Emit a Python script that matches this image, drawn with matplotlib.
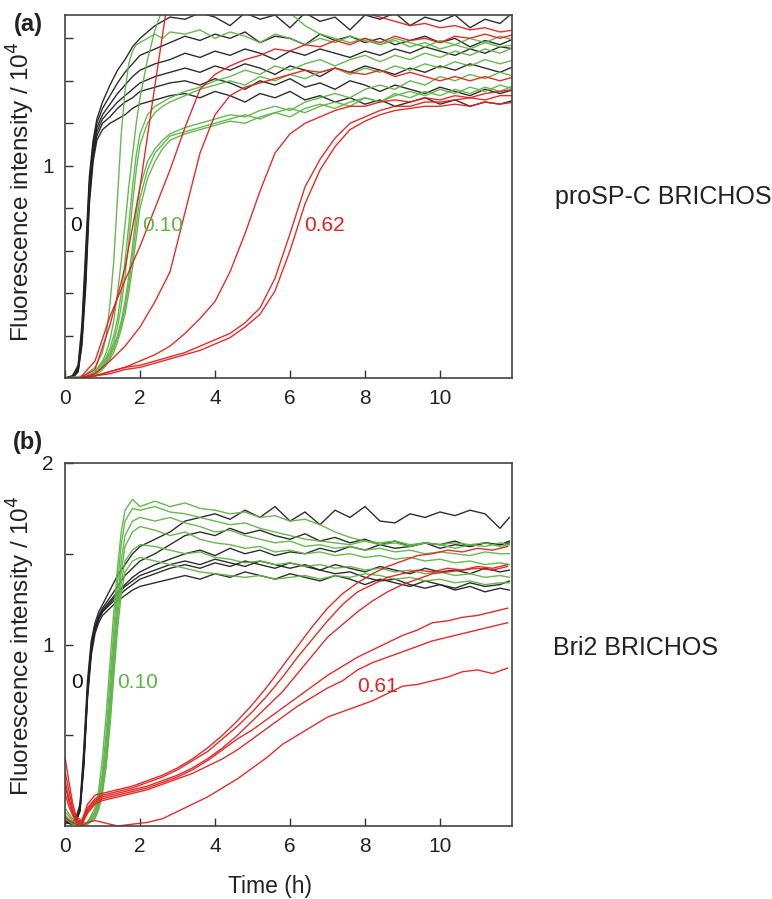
import matplotlib
matplotlib.use("Agg")
import matplotlib.pyplot as plt
from matplotlib.ticker import FixedLocator, NullFormatter

plt.rcParams['font.family'] = ['Liberation Sans', 'DejaVu Sans']

# ---------------- Panel (a): proSP-C BRICHOS ----------------
TA_K = [0, 0.2, 0.35, 0.45, 0.55, 0.65, 0.75, 0.85, 1.0, 1.2, 1.4, 1.6, 1.8,
        2.0, 2.4, 2.8, 3.2, 3.6, 4.0, 4.4, 4.8, 5.2, 5.6, 6.0, 6.4, 6.8, 7.2, 7.6,
        8.0, 8.4, 8.8, 9.2, 9.6, 10.0, 10.4, 10.8, 11.2, 11.6, 12.0]
A_K1 = [0, 0.01, 0.06, 0.25, 0.6, 0.95, 1.12, 1.22, 1.3, 1.38, 1.45, 1.5, 1.56,
        1.6, 1.66, 1.7, 1.69, 1.72, 1.7, 1.66, 1.72, 1.69, 1.71, 1.65, 1.72, 1.68, 1.7,
        1.64, 1.71, 1.69, 1.72, 1.66, 1.7, 1.68, 1.71, 1.65, 1.69, 1.67, 1.73]
A_K2 = [0, 0.01, 0.05, 0.22, 0.55, 0.92, 1.1, 1.2, 1.27, 1.33, 1.39, 1.44, 1.48,
        1.52, 1.55, 1.58, 1.61, 1.59, 1.62, 1.6, 1.63, 1.58, 1.61, 1.6, 1.57, 1.62, 1.59,
        1.61, 1.58, 1.6, 1.57, 1.59, 1.61, 1.58, 1.6, 1.56, 1.59, 1.57, 1.6]
A_K3 = [0, 0.0, 0.04, 0.2, 0.5, 0.9, 1.08, 1.18, 1.24, 1.29, 1.34, 1.38, 1.42,
        1.45, 1.48, 1.5, 1.53, 1.51, 1.54, 1.52, 1.55, 1.53, 1.5, 1.54, 1.52, 1.55, 1.53,
        1.51, 1.54, 1.52, 1.55, 1.53, 1.56, 1.54, 1.52, 1.55, 1.53, 1.56, 1.55]
A_K4 = [0, 0.0, 0.04, 0.18, 0.48, 0.88, 1.06, 1.16, 1.22, 1.26, 1.3, 1.33, 1.36,
        1.39, 1.42, 1.44, 1.46, 1.44, 1.47, 1.45, 1.48, 1.46, 1.43, 1.47, 1.45, 1.42, 1.46,
        1.44, 1.47, 1.45, 1.43, 1.46, 1.44, 1.47, 1.45, 1.48, 1.46, 1.44, 1.47]
A_K5 = [0, 0.0, 0.03, 0.17, 0.45, 0.85, 1.04, 1.14, 1.2, 1.23, 1.27, 1.3, 1.32,
        1.35, 1.37, 1.39, 1.4, 1.38, 1.41, 1.39, 1.36, 1.4, 1.38, 1.41, 1.37, 1.39, 1.36,
        1.4, 1.38, 1.35, 1.38, 1.36, 1.34, 1.37, 1.35, 1.33, 1.36, 1.34, 1.36]
A_K6 = [0, 0.0, 0.03, 0.15, 0.42, 0.82, 1.02, 1.12, 1.17, 1.2, 1.22, 1.24, 1.27,
        1.29, 1.31, 1.33, 1.34, 1.32, 1.35, 1.33, 1.3, 1.34, 1.32, 1.35, 1.31, 1.33, 1.3,
        1.32, 1.29, 1.31, 1.28, 1.3, 1.32, 1.29, 1.31, 1.28, 1.3, 1.29, 1.31]

TA_G = [0, 0.5, 0.8, 1.0, 1.1, 1.2, 1.3, 1.4, 1.5, 1.6, 1.7, 1.8, 1.9, 2.0, 2.2, 2.4, 2.6, 2.8,
        3.2, 3.6, 4.0, 4.4, 4.8, 5.2, 5.6, 6.0, 6.4, 6.8, 7.2, 7.6, 8.0, 8.4, 8.8, 9.2, 9.6,
        10.0, 10.4, 10.8, 11.2, 11.6, 12.0]
A_G1 = [0, 0.01, 0.05, 0.12, 0.2, 0.35, 0.55, 0.85, 1.15, 1.35, 1.48, 1.54, 1.57, 1.58, 1.6, 1.62, 1.6, 1.63,
        1.62, 1.64, 1.6, 1.63, 1.61, 1.58, 1.62, 1.6, 1.57, 1.6, 1.58, 1.61, 1.59, 1.57, 1.6, 1.58, 1.56,
        1.59, 1.57, 1.6, 1.58, 1.61, 1.59]
A_G2 = [0, 0.0, 0.03, 0.08, 0.12, 0.18, 0.27, 0.4, 0.55, 0.72, 0.9, 1.05, 1.2, 1.32, 1.5, 1.64, 1.74, 1.8,
        1.82, 1.8, 1.78, 1.8, 1.76, 1.74, 1.75, 1.72, 1.66, 1.62, 1.6, 1.58, 1.6, 1.57, 1.59, 1.56, 1.58,
        1.55, 1.57, 1.55, 1.58, 1.56, 1.57]
A_G3 = [0, 0.0, 0.03, 0.07, 0.1, 0.14, 0.2, 0.28, 0.4, 0.55, 0.72, 0.9, 1.05, 1.15, 1.24, 1.28, 1.3, 1.32,
        1.35, 1.37, 1.4, 1.42, 1.45, 1.43, 1.47, 1.45, 1.48, 1.5, 1.47, 1.5, 1.52, 1.49, 1.52, 1.5, 1.53,
        1.51, 1.54, 1.52, 1.55, 1.53, 1.56]
A_G4 = [0, 0.0, 0.02, 0.06, 0.09, 0.12, 0.17, 0.24, 0.34, 0.48, 0.64, 0.82, 0.98, 1.1, 1.2, 1.25, 1.28, 1.3,
        1.33, 1.36, 1.38, 1.4, 1.38, 1.42, 1.4, 1.43, 1.41, 1.44, 1.46, 1.43, 1.46, 1.44, 1.47, 1.45, 1.48,
        1.46, 1.49, 1.47, 1.5, 1.48, 1.5]
A_G5 = [0, 0.0, 0.02, 0.05, 0.08, 0.11, 0.15, 0.2, 0.27, 0.36, 0.48, 0.62, 0.78, 0.9, 1.02, 1.08, 1.12, 1.15,
        1.18, 1.2, 1.22, 1.24, 1.23, 1.26, 1.28, 1.26, 1.3, 1.32, 1.34, 1.32, 1.36, 1.38, 1.36, 1.4, 1.38,
        1.42, 1.4, 1.43, 1.41, 1.44, 1.42]
A_G6 = [0, 0.0, 0.02, 0.05, 0.07, 0.1, 0.14, 0.19, 0.25, 0.33, 0.44, 0.57, 0.72, 0.85, 0.98, 1.06, 1.1, 1.14,
        1.16, 1.18, 1.2, 1.22, 1.24, 1.22, 1.25, 1.27, 1.25, 1.28, 1.3, 1.28, 1.32, 1.3, 1.34, 1.32, 1.35,
        1.33, 1.36, 1.34, 1.37, 1.35, 1.38]
A_G7 = [0, 0.0, 0.01, 0.04, 0.06, 0.09, 0.12, 0.17, 0.23, 0.3, 0.4, 0.52, 0.66, 0.8, 0.94, 1.02, 1.08, 1.12,
        1.15, 1.17, 1.19, 1.21, 1.2, 1.23, 1.25, 1.23, 1.27, 1.29, 1.27, 1.3, 1.32, 1.3, 1.33, 1.35, 1.33,
        1.36, 1.34, 1.37, 1.35, 1.38, 1.36]

TA_R = [0, 0.4, 0.8, 1.2, 1.6, 2.0, 2.4, 2.8, 3.2, 3.6, 4.0, 4.4, 4.8, 5.2, 5.6, 6.0, 6.4, 6.8,
        7.2, 7.6, 8.0, 8.4, 8.8, 9.2, 9.6, 10.0, 10.4, 10.8, 11.2, 11.6, 12.0]
A_R1 = [0, 0.0, 0.04, 0.25, 0.52, 0.9, 1.38, 1.85, 1.9, 1.92, 1.9, 1.93, 1.9, 1.88, 1.86, 1.84, 1.8, 1.78,
        1.76, 1.74, 1.72, 1.7, 1.68, 1.66, 1.67, 1.65, 1.66, 1.64, 1.65, 1.63, 1.64]
A_R2 = [0, 0.0, 0.08, 0.29, 0.46, 0.62, 0.8, 0.98, 1.18, 1.36, 1.43, 1.47, 1.5, 1.52, 1.55, 1.54, 1.57, 1.56,
        1.59, 1.57, 1.6, 1.58, 1.61, 1.59, 1.6, 1.58, 1.61, 1.6, 1.62, 1.6, 1.62]
A_R3 = [0, 0.0, 0.02, 0.08, 0.15, 0.24, 0.36, 0.5, 0.78, 1.06, 1.24, 1.33, 1.37, 1.39, 1.41, 1.43, 1.45, 1.44,
        1.46, 1.44, 1.43, 1.45, 1.42, 1.44, 1.42, 1.4, 1.42, 1.4, 1.42, 1.4, 1.42]
A_R4 = [0, 0.0, 0.01, 0.03, 0.05, 0.08, 0.11, 0.15, 0.21, 0.28, 0.36, 0.5, 0.68, 0.88, 1.06, 1.15, 1.2, 1.23,
        1.26, 1.28, 1.28, 1.3, 1.31, 1.3, 1.32, 1.31, 1.33, 1.32, 1.34, 1.35, 1.36]
A_R5 = [0, 0.0, 0.01, 0.03, 0.05, 0.06, 0.08, 0.1, 0.12, 0.15, 0.18, 0.21, 0.26, 0.33, 0.47, 0.68, 0.9, 1.03,
        1.13, 1.2, 1.23, 1.26, 1.28, 1.28, 1.3, 1.3, 1.31, 1.32, 1.31, 1.33, 1.33]
A_R6 = [0, 0.0, 0.01, 0.02, 0.04, 0.05, 0.07, 0.09, 0.11, 0.13, 0.16, 0.19, 0.24, 0.3, 0.41, 0.6, 0.82, 0.98,
        1.09, 1.17, 1.21, 1.24, 1.26, 1.27, 1.28, 1.28, 1.29, 1.28, 1.3, 1.29, 1.3]

# ---------------- Panel (b): Bri2 BRICHOS ----------------
TB_K = [0, 0.2, 0.3, 0.4, 0.5, 0.6, 0.7, 0.8, 0.9, 1.0, 1.2, 1.4, 1.6, 1.8, 2.0,
        2.4, 2.8, 3.2, 3.6, 4.0, 4.4, 4.8, 5.2, 5.6, 6.0, 6.4, 6.8, 7.2, 7.6, 8.0,
        8.4, 8.8, 9.2, 9.6, 10.0, 10.4, 10.8, 11.2, 11.6, 11.85]
B_K1 = [0.03, 0.02, 0.05, 0.12, 0.42, 0.8, 1.02, 1.12, 1.18, 1.22, 1.3, 1.38, 1.44, 1.5, 1.54,
        1.58, 1.62, 1.68, 1.7, 1.72, 1.69, 1.74, 1.7, 1.76, 1.68, 1.73, 1.66, 1.74, 1.7, 1.76,
        1.68, 1.67, 1.72, 1.7, 1.73, 1.71, 1.74, 1.72, 1.64, 1.7]
B_K2 = [0.03, 0.02, 0.04, 0.1, 0.38, 0.76, 1.0, 1.1, 1.16, 1.2, 1.26, 1.32, 1.38, 1.42, 1.46,
        1.5, 1.55, 1.6, 1.62, 1.6, 1.64, 1.61, 1.63, 1.6, 1.58, 1.61, 1.57, 1.59, 1.56, 1.58,
        1.55, 1.57, 1.54, 1.56, 1.55, 1.57, 1.54, 1.56, 1.55, 1.57]
B_K3 = [0.02, 0.02, 0.04, 0.1, 0.36, 0.74, 0.98, 1.09, 1.15, 1.19, 1.24, 1.29, 1.33, 1.37, 1.4,
        1.44, 1.47, 1.5, 1.52, 1.49, 1.53, 1.5, 1.52, 1.49, 1.51, 1.5, 1.53, 1.51, 1.54, 1.52,
        1.55, 1.53, 1.54, 1.56, 1.53, 1.55, 1.54, 1.56, 1.55, 1.56]
B_K4 = [0.02, 0.01, 0.03, 0.09, 0.34, 0.72, 0.96, 1.08, 1.14, 1.18, 1.22, 1.26, 1.3, 1.33, 1.36,
        1.39, 1.42, 1.44, 1.42, 1.45, 1.43, 1.46, 1.44, 1.42, 1.45, 1.43, 1.41, 1.44, 1.42, 1.4,
        1.43, 1.41, 1.39, 1.42, 1.4, 1.41, 1.39, 1.42, 1.4, 1.41]
B_K5 = [0.02, 0.01, 0.03, 0.08, 0.32, 0.7, 0.94, 1.06, 1.12, 1.16, 1.2, 1.24, 1.27, 1.3, 1.32,
        1.34, 1.36, 1.38, 1.36, 1.39, 1.37, 1.4, 1.38, 1.36, 1.39, 1.37, 1.35, 1.38, 1.36, 1.33,
        1.36, 1.34, 1.32, 1.35, 1.33, 1.31, 1.34, 1.32, 1.33, 1.35]
B_K6 = [0.02, 0.01, 0.03, 0.09, 0.35, 0.73, 0.97, 1.08, 1.14, 1.18, 1.23, 1.28, 1.32, 1.35, 1.38,
        1.41, 1.44, 1.46, 1.44, 1.47, 1.45, 1.43, 1.46, 1.44, 1.42, 1.44, 1.41, 1.39, 1.4, 1.37,
        1.35, 1.36, 1.33, 1.31, 1.33, 1.3, 1.32, 1.29, 1.31, 1.3]

TB_G = [0, 0.2, 0.4, 0.6, 0.8, 0.9, 1.0, 1.1, 1.2, 1.3, 1.4, 1.5, 1.6, 1.8, 2.0,
        2.4, 2.8, 3.2, 3.6, 4.0, 4.4, 4.8, 5.2, 5.6, 6.0, 6.4, 6.8, 7.2, 7.6, 8.0,
        8.4, 8.8, 9.2, 9.6, 10.0, 10.4, 10.8, 11.2, 11.6, 11.85]
B_G1 = [0.1, 0.04, 0.01, 0.02, 0.1, 0.2, 0.38, 0.62, 0.9, 1.18, 1.42, 1.62, 1.74, 1.8, 1.76,
        1.79, 1.76, 1.78, 1.75, 1.74, 1.72, 1.73, 1.7, 1.71, 1.68, 1.69, 1.66, 1.62, 1.59, 1.57,
        1.56, 1.57, 1.55, 1.56, 1.55, 1.56, 1.55, 1.56, 1.54, 1.55]
B_G2 = [0.08, 0.03, 0.01, 0.02, 0.08, 0.16, 0.3, 0.52, 0.8, 1.08, 1.34, 1.55, 1.68, 1.75, 1.74,
        1.76, 1.73, 1.72, 1.7, 1.68, 1.66, 1.67, 1.64, 1.62, 1.6, 1.58, 1.57, 1.56, 1.55, 1.57,
        1.55, 1.56, 1.54, 1.56, 1.55, 1.53, 1.55, 1.54, 1.56, 1.55]
B_G3 = [0.06, 0.02, 0.01, 0.02, 0.07, 0.14, 0.26, 0.46, 0.72, 1.0, 1.26, 1.46, 1.6, 1.68, 1.7,
        1.68, 1.7, 1.67, 1.65, 1.62, 1.63, 1.6, 1.58, 1.56, 1.57, 1.54, 1.55, 1.53, 1.54, 1.52,
        1.53, 1.51, 1.52, 1.5, 1.51, 1.5, 1.49, 1.51, 1.5, 1.5]
B_G4 = [0.05, 0.02, 0.01, 0.01, 0.06, 0.12, 0.22, 0.4, 0.66, 0.94, 1.2, 1.4, 1.54, 1.62, 1.65,
        1.63, 1.6, 1.62, 1.58, 1.56, 1.55, 1.53, 1.54, 1.51, 1.52, 1.5, 1.51, 1.49, 1.5, 1.48,
        1.49, 1.47, 1.48, 1.46, 1.47, 1.45, 1.46, 1.44, 1.45, 1.44]
B_G5 = [0.05, 0.02, 0.0, 0.01, 0.05, 0.1, 0.2, 0.36, 0.6, 0.88, 1.14, 1.34, 1.46, 1.52, 1.55,
        1.54, 1.52, 1.5, 1.51, 1.48, 1.47, 1.45, 1.46, 1.44, 1.45, 1.43, 1.44, 1.42, 1.43, 1.41,
        1.42, 1.4, 1.41, 1.39, 1.4, 1.38, 1.39, 1.37, 1.38, 1.37]
B_G6 = [0.04, 0.01, 0.0, 0.01, 0.04, 0.09, 0.18, 0.33, 0.55, 0.82, 1.08, 1.28, 1.4, 1.46, 1.48,
        1.46, 1.44, 1.42, 1.4, 1.39, 1.38, 1.37, 1.38, 1.36, 1.37, 1.38, 1.36, 1.38, 1.37, 1.39,
        1.38, 1.36, 1.37, 1.35, 1.36, 1.34, 1.35, 1.33, 1.34, 1.34]

TB_R = [0, 0.1, 0.2, 0.3, 0.45, 0.6, 0.8, 1.0, 1.4, 1.8, 2.2, 2.6, 3.0, 3.4, 3.8, 4.2, 4.6, 5.0,
        5.4, 5.8, 6.2, 6.6, 7.0, 7.4, 7.8, 8.2, 8.6, 9.0, 9.4, 9.8, 10.2, 10.6, 11.0, 11.4, 11.8]
B_R1 = [0.38, 0.25, 0.13, 0.05, 0.03, 0.12, 0.17, 0.18, 0.2, 0.22, 0.25, 0.28, 0.32, 0.37, 0.43, 0.5, 0.58, 0.67,
        0.77, 0.88, 0.99, 1.1, 1.2, 1.28, 1.34, 1.39, 1.43, 1.46, 1.49, 1.5, 1.52, 1.51, 1.53, 1.52, 1.54]
B_R2 = [0.3, 0.2, 0.1, 0.04, 0.02, 0.1, 0.15, 0.17, 0.19, 0.21, 0.24, 0.27, 0.31, 0.36, 0.41, 0.48, 0.55, 0.63,
        0.72, 0.82, 0.93, 1.03, 1.13, 1.22, 1.29, 1.33, 1.37, 1.39, 1.41, 1.4, 1.42, 1.41, 1.43, 1.42, 1.44]
B_R3 = [0.25, 0.16, 0.08, 0.03, 0.02, 0.09, 0.14, 0.16, 0.18, 0.2, 0.22, 0.25, 0.28, 0.32, 0.37, 0.43, 0.5, 0.58,
        0.66, 0.74, 0.84, 0.94, 1.04, 1.11, 1.18, 1.24, 1.29, 1.33, 1.36, 1.39, 1.4, 1.41, 1.42, 1.41, 1.43]
B_R4 = [0.22, 0.14, 0.07, 0.03, 0.01, 0.08, 0.13, 0.15, 0.17, 0.19, 0.21, 0.24, 0.27, 0.31, 0.36, 0.42, 0.48, 0.53,
        0.59, 0.65, 0.71, 0.77, 0.83, 0.88, 0.93, 0.97, 1.01, 1.05, 1.08, 1.12, 1.13, 1.15, 1.16, 1.18, 1.2]
B_R5 = [0.18, 0.11, 0.06, 0.02, 0.01, 0.07, 0.12, 0.14, 0.16, 0.18, 0.2, 0.23, 0.26, 0.29, 0.33, 0.37, 0.42, 0.48,
        0.54, 0.6, 0.66, 0.71, 0.76, 0.8, 0.86, 0.9, 0.93, 0.96, 0.99, 1.02, 1.04, 1.06, 1.08, 1.1, 1.12]
B_R6 = [0.05, 0.03, 0.02, 0.01, 0.0, 0.02, 0.03, 0.02, 0.0, 0.01, 0.02, 0.04, 0.08, 0.12, 0.16, 0.21, 0.26, 0.32,
        0.38, 0.45, 0.5, 0.55, 0.6, 0.63, 0.66, 0.69, 0.73, 0.77, 0.78, 0.8, 0.82, 0.85, 0.86, 0.84, 0.87]

# labels / annotations
X_TICKS = [0, 2, 4, 6, 8, 10]
A_YTICKS = [1]
A_YMINOR = [0.2, 0.4, 0.6, 0.8, 1.2, 1.4, 1.6]
B_YTICKS = [1, 2]
B_YMINOR = [0.5, 1.5]
A_ANNOT = [("0", 0.29, 0.72, "black"), ("0.10", 2.6, 0.72, "green"), ("0.62", 6.93, 0.72, "red")]
B_ANNOT = [("0", 0.33, 0.79, "black"), ("0.10", 1.93, 0.79, "green"), ("0.61", 8.33, 0.77, "red")]

COL = {"black": "#222222", "green": "#5fb446", "red": "#e3211f"}
TXT = {"black": "#111111", "green": "#5fb446", "red": "#e3211f"}

fig = plt.figure(figsize=(7.72, 8.99), dpi=100)
ax_a = fig.add_axes([65 / 772, 1 - 378 / 899, 447 / 772, 363 / 899])
ax_b = fig.add_axes([65 / 772, 1 - 826 / 899, 447 / 772, 363 / 899])

panel_a = [(TA_K, [A_K1, A_K2, A_K3, A_K4, A_K5, A_K6], "black"),
           (TA_G, [A_G1, A_G2, A_G3, A_G4, A_G5, A_G6, A_G7], "green"),
           (TA_R, [A_R1, A_R2, A_R3, A_R4, A_R5, A_R6], "red")]
panel_b = [(TB_K, [B_K1, B_K2, B_K3, B_K4, B_K5, B_K6], "black"),
           (TB_G, [B_G1, B_G2, B_G3, B_G4, B_G5, B_G6], "green"),
           (TB_R, [B_R1, B_R2, B_R3, B_R4, B_R5, B_R6], "red")]

for ax, groups, ymax, yt, ym, annots in [(ax_a, panel_a, 1.71, A_YTICKS, A_YMINOR, A_ANNOT),
                                         (ax_b, panel_b, 2.0, B_YTICKS, B_YMINOR, B_ANNOT)]:
    for t, curves, c in groups:
        for y in curves:
            ax.plot(t, y, color=COL[c], lw=1.0, alpha=0.95, solid_joinstyle='miter')
    ax.set_xlim(0, 11.92)
    ax.set_ylim(0, ymax)
    ax.set_xticks(X_TICKS)
    ax.set_xticklabels([str(v) for v in X_TICKS])
    ax.set_yticks(yt)
    ax.set_yticklabels([str(v) for v in yt])
    ax.yaxis.set_minor_locator(FixedLocator(ym))
    ax.yaxis.set_minor_formatter(NullFormatter())
    ax.tick_params(axis='both', which='major', direction='in', length=6, width=1.0,
                   labelsize=15, pad=8, color='#333333', labelcolor='#222222')
    ax.tick_params(axis='y', which='minor', direction='in', length=6, width=1.0, color='#333333')
    ax.tick_params(axis='x', which='minor', bottom=False)
    for s in ax.spines.values():
        s.set_color('#444444')
        s.set_linewidth(1.2)
    for txt, x, y, c in annots:
        ax.text(x, y, txt, color=TXT[c], fontsize=15, ha='center', va='center')

fig.text(28 / 772, 1 - 25 / 899, "(a)", fontsize=17, fontweight='bold', ha='center', va='center', color='#222222')
fig.text(28 / 772, 1 - 442 / 899, "(b)", fontsize=17, fontweight='bold', ha='center', va='center', color='#222222')
fig.text(21 / 772, 1 - 192 / 899, "Fluorescence intensity / 10$^4$", rotation=90, fontsize=17.5,
         ha='center', va='center', color='#222222')
fig.text(21 / 772, 1 - 646 / 899, "Fluorescence intensity / 10$^4$", rotation=90, fontsize=17.5,
         ha='center', va='center', color='#222222')
fig.text(270 / 772, 1 - 886 / 899, "Time (h)", fontsize=16.5, ha='center', va='center', color='#222222')
fig.text(555 / 772, 1 - 197 / 899, "proSP-C BRICHOS", fontsize=18, ha='left', va='center', color='#222222')
fig.text(553 / 772, 1 - 648 / 899, "Bri2 BRICHOS", fontsize=18, ha='left', va='center', color='#222222')

fig.savefig("out.png", dpi=100)
